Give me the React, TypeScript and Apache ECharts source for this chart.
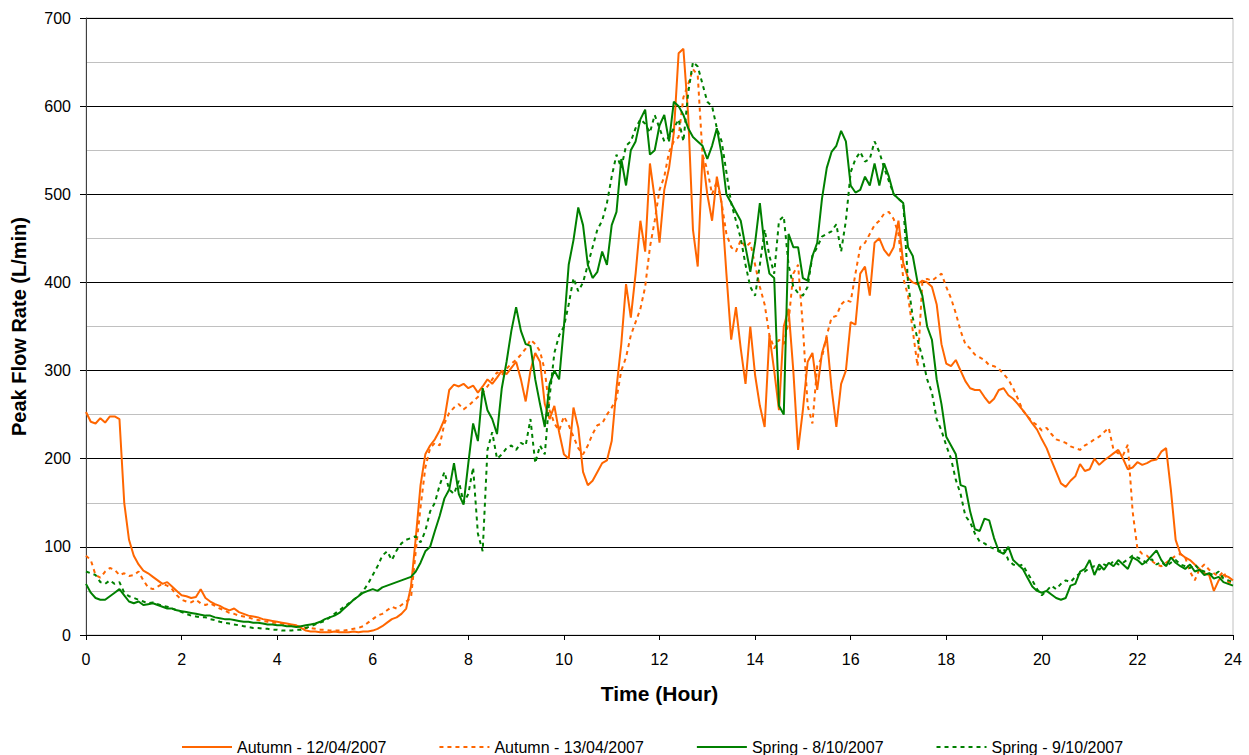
import React, { useEffect, useRef } from "react";
import * as echarts from "echarts";

// Peak flow readings (L/min), sampled every 0.1 hour from 0 to 24 h.
const SAMPLE_STEP_HOURS = 0.1;

const autumn12 = [
  253, 242, 240, 246, 241, 248, 248, 245, 150, 108,
  90, 80, 73, 70, 66, 62, 58, 60, 55, 50,
  45, 44, 42, 43, 52, 42, 38, 35, 33, 30,
  28, 30, 26, 24, 22, 21, 20, 18, 17, 16,
  15, 14, 13, 12, 11, 8, 5, 4, 4, 3,
  3, 3, 4, 3, 3, 3, 4, 3, 4, 4,
  5, 7, 10, 14, 18, 20, 24, 30, 55, 110,
  170, 205, 215, 222, 232, 245, 278, 284, 282, 285,
  280, 283, 275, 282, 290, 285, 292, 300, 296, 303,
  310, 290, 265, 300, 320, 310, 262, 245, 260, 230,
  205, 200, 258, 235, 185, 170, 175, 185, 195, 198,
  220, 280, 330, 398, 360, 410, 470, 435, 535, 495,
  445, 505, 530, 570, 660, 665, 590, 460, 418, 545,
  500, 470, 520, 490, 410, 335, 372, 325, 285, 350,
  295, 260, 236, 340, 300, 255, 350, 370, 300, 210,
  255, 310, 320, 278, 320, 338, 280, 236, 285, 300,
  355, 352, 410, 418, 385, 445, 450, 437, 430, 440,
  470, 422, 405, 400, 398, 402, 400, 395, 375, 330,
  308, 305, 312, 300, 288, 280, 278, 278, 270, 263,
  268, 278, 280, 272, 268, 262, 255, 248, 240, 233,
  222, 212, 198, 185, 172, 168, 175, 180, 194, 186,
  188, 200, 193, 198, 202, 206, 210, 200, 188, 190,
  196, 193, 195, 198, 199, 208, 212, 165, 108, 92,
  88, 85, 80, 75, 70, 68, 50, 62, 68, 66,
  62,
];

const autumn13 = [
  90, 85, 68, 65, 72, 76, 74, 68, 70, 67,
  68, 72, 62, 54, 52, 55, 58, 56, 52, 45,
  40, 38, 37, 40, 36, 34, 36, 33, 30, 28,
  25, 24, 22, 21, 20, 18, 17, 16, 15, 14,
  14, 13, 12, 11, 10, 9, 8, 8, 7, 6,
  6, 5, 5, 5, 5, 6, 7, 8, 10, 14,
  18, 22, 24, 28, 32, 30, 34, 38, 42, 95,
  145, 190, 212, 218, 215, 240, 252, 258, 262, 256,
  260, 265, 270, 275, 282, 290, 298, 295, 302, 308,
  312, 318, 325, 335, 330, 322, 300, 255, 240, 232,
  248, 238, 225, 212, 205, 215, 228, 238, 240, 250,
  258, 268, 300, 315, 340, 355, 370, 395, 440, 470,
  505, 520, 548, 560, 565, 610, 625, 642, 635, 545,
  528, 500, 515, 490, 455, 440, 435, 448, 440, 445,
  420, 395, 375, 340, 325, 335, 330, 355, 410, 420,
  350, 260, 240, 305, 315, 340, 360, 362, 375, 380,
  378, 410, 440, 445, 455, 465, 470, 478, 480, 472,
  455, 405, 385, 345, 305, 400, 404, 402, 406, 410,
  395, 382, 365, 345, 330, 325, 318, 315, 312, 306,
  305, 302, 296, 290, 280, 268, 255, 248, 242, 238,
  232, 235, 228, 222, 220, 218, 214, 212, 210, 215,
  218, 222, 225, 230, 235, 210, 206, 204, 216, 140,
  98, 92, 90, 84, 80, 78, 82, 86, 90, 92,
  88, 72, 62, 75, 80, 74, 70, 66, 72, 60,
  58,
];

const spring8 = [
  58, 48, 42, 40, 40, 44, 48, 52, 45, 38,
  36, 38, 34, 35, 36, 34, 32, 30, 30, 28,
  27, 26, 25, 24, 23, 22, 22, 20, 19, 18,
  18, 17, 16, 15, 15, 14, 14, 13, 12, 12,
  11, 11, 10, 10, 9, 10, 11, 12, 13, 15,
  18, 20, 22, 25, 30, 35, 40, 44, 48, 50,
  52, 50, 54, 56, 58, 60, 62, 64, 66, 72,
  82, 95, 100, 118, 135, 155, 165, 195, 160, 148,
  195, 240, 220, 280, 255, 245, 228, 280, 310, 345,
  372, 345, 330, 328, 290, 262, 236, 285, 300, 290,
  350, 420, 448, 485, 465, 420, 405, 412, 435, 420,
  465, 480, 540, 510, 550, 560, 585, 596, 545, 550,
  578, 590, 560, 605, 600, 590, 575, 565, 560, 555,
  540, 555, 575, 545, 500, 490, 480, 470, 440, 412,
  445, 490, 440, 410, 405, 260, 250, 455, 440, 440,
  405, 402, 430, 445, 495, 530, 548, 555, 572, 560,
  510, 502, 505, 520, 510, 535, 510, 535, 520, 500,
  495, 490, 440, 430, 400, 385, 350, 335, 290, 262,
  225, 215, 205, 170, 168, 140, 120, 118, 132, 130,
  110, 95, 92, 100, 85, 80, 75, 65, 55, 50,
  48, 50, 46, 42, 40, 42, 56, 58, 72, 75,
  85, 68, 80, 74, 82, 78, 85, 80, 75, 88,
  85, 80, 84, 90, 96, 85, 78, 88, 82, 78,
  75, 80, 72, 74, 68, 70, 64, 66, 60, 58,
  56,
];

const spring9 = [
  72, 70, 68, 60, 58, 62, 58, 60, 48, 44,
  42, 40, 38, 36, 37, 35, 33, 32, 30, 28,
  26, 24, 22, 21, 20, 20, 18, 17, 15, 14,
  13, 12, 11, 10, 9, 8, 8, 7, 7, 6,
  6, 5, 5, 5, 6, 6, 8, 10, 12, 14,
  16, 20, 24, 28, 32, 36, 40, 44, 50, 58,
  68, 78, 90, 95, 85, 96, 104, 108, 110, 112,
  105, 118, 140, 150, 170, 185, 165, 160, 175, 150,
  160, 190, 115, 95, 210, 230, 200, 205, 212, 215,
  210, 218, 215, 245, 195, 215, 205, 270, 320, 340,
  350, 375, 405, 390, 400, 420, 440, 460, 470, 490,
  520, 545, 530, 555, 560, 575, 585, 580, 570, 590,
  575, 560, 565, 575, 585, 560, 615, 650, 645, 625,
  605, 600, 575, 560, 525, 490, 470, 450, 420, 395,
  385, 420, 460, 430, 410, 470, 475, 420, 395, 388,
  385, 395, 430, 440, 452, 455, 458, 466, 435, 470,
  525, 540, 548, 537, 540, 560, 548, 530, 515, 500,
  495, 490, 400, 360, 335, 315, 290, 275, 245, 232,
  215, 200, 176, 160, 135, 128, 115, 106, 104, 100,
  98, 95, 98, 85, 80, 78, 80, 70, 62, 52,
  45, 50, 56, 52, 58, 62, 60, 66, 70, 72,
  76, 78, 74, 80, 78, 84, 80, 82, 86, 90,
  88, 85, 82, 86, 80, 83, 78, 82, 85, 80,
  78, 76, 80, 74, 72, 70, 68, 72, 64, 62,
  60,
];

const seriesNames = [
  "Autumn - 12/04/2007",
  "Autumn - 13/04/2007",
  "Spring - 8/10/2007",
  "Spring - 9/10/2007",
];

const ORANGE = "#FF6600";
const GREEN = "#008000";
const FONT = "'Liberation Sans', Arial, sans-serif";

const toPoints = (values: number[]) =>
  values.map((v, i) => [Number((i * SAMPLE_STEP_HOURS).toFixed(1)), v]);

const lineSeries = (
  name: string,
  values: number[],
  color: string,
  dashed: boolean
) => ({
  name,
  type: "line",
  data: toPoints(values),
  showSymbol: false,
  symbol: "none",
  smooth: false,
  itemStyle: { color },
  lineStyle: {
    color,
    width: 2,
    type: dashed ? [4, 4] : "solid",
  },
});

export default function App() {
  const ref = useRef<HTMLDivElement>(null);

  useEffect(() => {
    if (!ref.current) return;
    const chart = echarts.init(ref.current, undefined, { renderer: "svg" });
    chart.setOption({
      animation: false,
      backgroundColor: "#ffffff",
      textStyle: { fontFamily: FONT },
      grid: {
        left: 86,
        right: 16,
        top: 18,
        bottom: 120,
        show: true,
        borderColor: "#c0c0c0",
        borderWidth: 1,
      },
      legend: {
        top: 734,
        left: 176,
        itemWidth: 50,
        itemHeight: 14,
        itemGap: 52,
        itemStyle: { opacity: 0 },
        textStyle: { fontSize: 16, color: "#000", fontFamily: FONT },
        data: seriesNames,
      },
      xAxis: {
        type: "value",
        min: 0,
        max: 24,
        interval: 2,
        name: "Time (Hour)",
        nameLocation: "middle",
        nameGap: 48,
        nameTextStyle: {
          fontSize: 21,
          fontWeight: "bold",
          color: "#000",
          fontFamily: FONT,
        },
        axisLine: { lineStyle: { color: "#000", width: 1 } },
        axisTick: { show: true, length: 5, lineStyle: { color: "#000" } },
        axisLabel: { fontSize: 16, color: "#000", margin: 16, fontFamily: FONT },
        splitLine: { show: false },
      },
      yAxis: {
        type: "value",
        min: 0,
        max: 700,
        interval: 100,
        name: "Peak Flow Rate (L/min)",
        nameLocation: "middle",
        nameGap: 57,
        nameTextStyle: {
          fontSize: 20,
          fontWeight: "bold",
          color: "#000",
          fontFamily: FONT,
        },
        axisLine: { show: true, lineStyle: { color: "#404040", width: 1 } },
        axisTick: { show: true, length: 6, lineStyle: { color: "#000" } },
        axisLabel: { fontSize: 16, color: "#000", margin: 15, fontFamily: FONT },
        splitLine: { show: true, lineStyle: { color: "#000", width: 1 } },
        minorTick: { show: false, splitNumber: 2 },
        minorSplitLine: { show: true, lineStyle: { color: "#c0c0c0", width: 1 } },
      },
      series: [
        lineSeries(seriesNames[0], autumn12, ORANGE, false),
        lineSeries(seriesNames[1], autumn13, ORANGE, true),
        lineSeries(seriesNames[2], spring8, GREEN, false),
        lineSeries(seriesNames[3], spring9, GREEN, true),
      ],
    });
    return () => chart.dispose();
  }, []);

  return (
    <div
      ref={ref}
      style={{ position: "absolute", left: 0, top: 0, width: 1249, height: 755 }}
    />
  );
}
